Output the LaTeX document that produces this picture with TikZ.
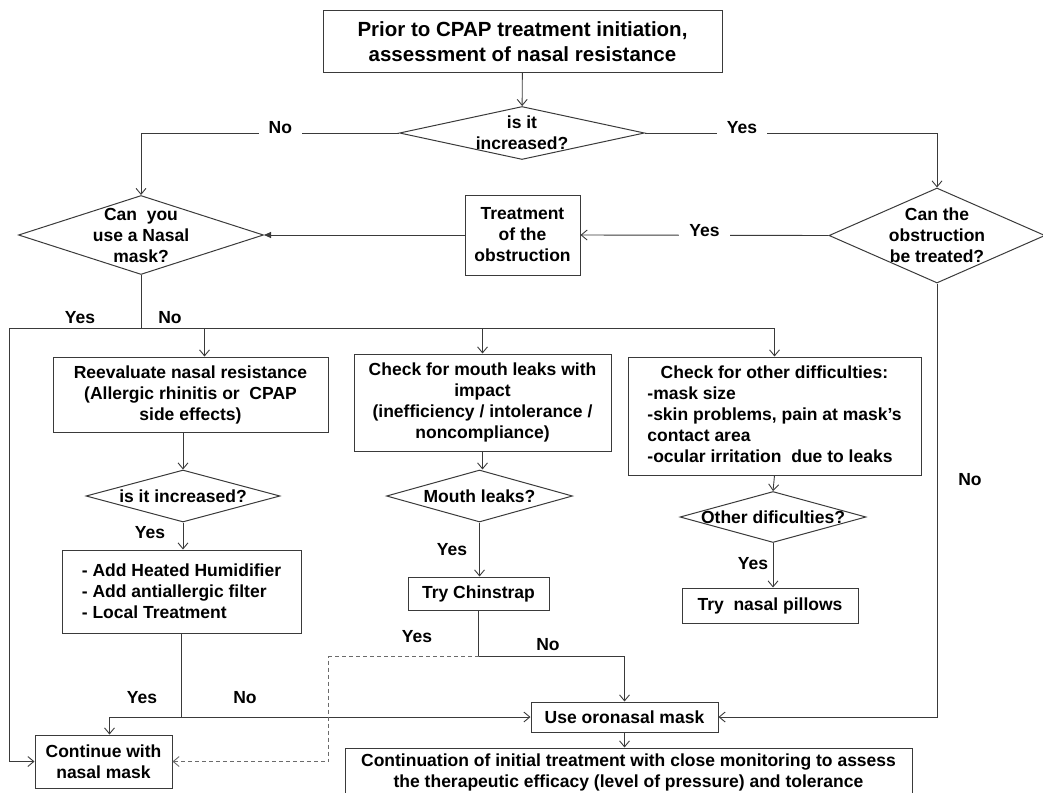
\documentclass[tikz,border=0pt]{standalone}
\usepackage{fontspec}
\setmainfont{Liberation Sans}
\usepackage{tikz}
\usetikzlibrary{positioning,arrows.meta,calc,shapes.geometric}
\definecolor{fcline}{HTML}{3A3A3A}

\begin{document}
\begin{tikzpicture}[x=1pt,y=-1pt,color=fcline,text=black,line width=0.9pt,
    font=\fontsize{17.5}{21}\selectfont\bfseries,>={Straight Barb[length=6pt,width=10pt]}]
  \tikzstyle{box}=[draw,rectangle,inner sep=0pt,align=center,line width=1pt]
  \tikzstyle{dia}=[draw,diamond,inner sep=0pt,line width=1pt]
  \tikzstyle{gap}=[fill=white,inner xsep=10pt,yshift=5pt]
  \useasboundingbox (0,0) rectangle (1043,792);
  % start and first question
  \node[box,minimum width=399,minimum height=61,font=\fontsize{20.5}{25}\selectfont\bfseries] (prior) at (522.5,41.5)
        {Prior to CPAP treatment initiation,\\assessment of nasal resistance};
  \node[dia,minimum width=245,minimum height=53,label={[align=center]center:is it\\increased?}] (inc) at (522,133) {};
  \node[dia,minimum width=245,minimum height=79,label={[align=center]center:Can\ \ you\\use a Nasal\\mask?}] (nasal) at (141,235) {};
  \node[box,minimum width=115,minimum height=80] (treat) at (522.5,235) {Treatment\\of the\\obstruction};
  \node[dia,minimum width=216,minimum height=95,label={[align=center]center:Can the\\obstruction\\be treated?}] (obst) at (937,235.5) {};
  % three checks
  \node[box,minimum width=275,minimum height=75] (reeval) at (190.5,394.5)
        {Reevaluate nasal resistance\\(Allergic rhinitis or\ \ CPAP\\side effects)};
  \node[dia,minimum width=194,minimum height=52,label=center:is it increased?] (inc2) at (183,496) {};
  \node[box,minimum width=239,minimum height=83,align=left] (addh) at (181.5,591.5)
        {- Add Heated Humidifier\\- Add antiallergic filter\\- Local Treatment};
  \node[box,minimum width=257,minimum height=97] (mouth) at (482.5,402.5)
        {Check for mouth leaks with\\impact\\(inefficiency / intolerance /\\noncompliance)};
  \node[dia,minimum width=186,minimum height=52,label=center:Mouth leaks?] (leak) at (479.5,496) {};
  \node[box,minimum width=141,minimum height=33] (chin) at (478.5,593.5) {Try Chinstrap};
  \node[box,minimum width=293,minimum height=118] (other) at (774.5,416)
        {\begin{tabular}{@{}l@{}}\multicolumn{1}{@{}c@{}}{Check for other difficulties:}\\-mask size\\
         -skin problems, pain at mask’s\\contact area\\-ocular irritation\ \ due to leaks\end{tabular}};
  \node[dia,minimum width=186,minimum height=51,label=center:Other dificulties?] (odiff) at (773,517) {};
  \node[box,minimum width=176,minimum height=35] (pill) at (770,605.5) {Try\ \ nasal pillows};
  % end boxes
  \node[box,minimum width=137,minimum height=53] (cont) at (103.5,761.5) {Continue with\\nasal mask};
  \node[box,minimum width=187,minimum height=30] (oro) at (624.5,717) {Use oronasal mask};
  \node[box,minimum width=567,minimum height=48] (fin) at (628.5,772)
        {Continuation of initial treatment with close monitoring to assess\\the therapeutic efficacy (level of pressure) and tolerance};
  % connectors
  \draw[->] (prior) -- (inc);
  \draw[->] (inc.west) -| node[pos=0.23,gap]{No} (nasal.north);
  \draw[->] (inc.east) -| node[pos=0.166,gap]{Yes} (obst.north);
  \draw[->] (obst.west) -- node[gap]{Yes} (treat.east);
  \draw[-{Triangle[length=7pt,width=6pt]}] (treat.west) -- (nasal.east);
  \coordinate (j) at (nasal.south |- 0,328);
  \draw (nasal.south) -- (j);
  \draw[->] (j) -- ++(-132,0) |- (cont.west);
  \draw[->] (j) -| (other.north);
  \coordinate (rin) at ([xshift=14pt]reeval.north);
  \draw[->] (rin |- j) -- (rin);
  \draw[->] (mouth.north |- j) -- (mouth.north);
  \node (yes1) at (80,318) {Yes};
  \node (no1) at (170,318) {No};
  \draw[->] (reeval.south -| inc2.north) -- (inc2.north);
  \draw[->] (inc2.south) -- (inc2.south |- addh.north);
  \node (yes2) at (150,533) {Yes};
  \coordinate (k) at (addh.south |- oro.west);
  \draw (addh.south) -- (k);
  \draw[->] (k) -| ([xshift=6pt]cont.north);
  \draw[->] (k) -- (oro.west);
  \node (yes3) at (142,698) {Yes};
  \node (no3) at (245,698) {No};
  \draw[->] (mouth.south) -- (mouth.south |- leak.north);
  \draw[->] (leak.south) -- (leak.south |- chin.north);
  \node (yes4) at (452,550) {Yes};
  \coordinate (m) at ($(chin.south)+(0,46)$);
  \draw (chin.south) -- (m);
  \draw[->] (m) -| (oro.north);
  \draw[->,fcline!75,dash pattern=on 4pt off 3pt] (m) -- ++(-150,0) |- (cont.east);
  \node (yes5) at (417,637) {Yes};
  \node (no5) at (548,645) {No};
  \draw[->] (other.south) -- (odiff.north);
  \draw[->] (odiff.south) -- (odiff.south |- pill.north);
  \node (yes6) at (753,564) {Yes};
  \draw[->] (obst.south) |- (oro.east);
  \node (no6) at (970,480) {No};
  \draw[->] (oro.south) -- (oro.south |- fin.north);
\end{tikzpicture}
\end{document}
